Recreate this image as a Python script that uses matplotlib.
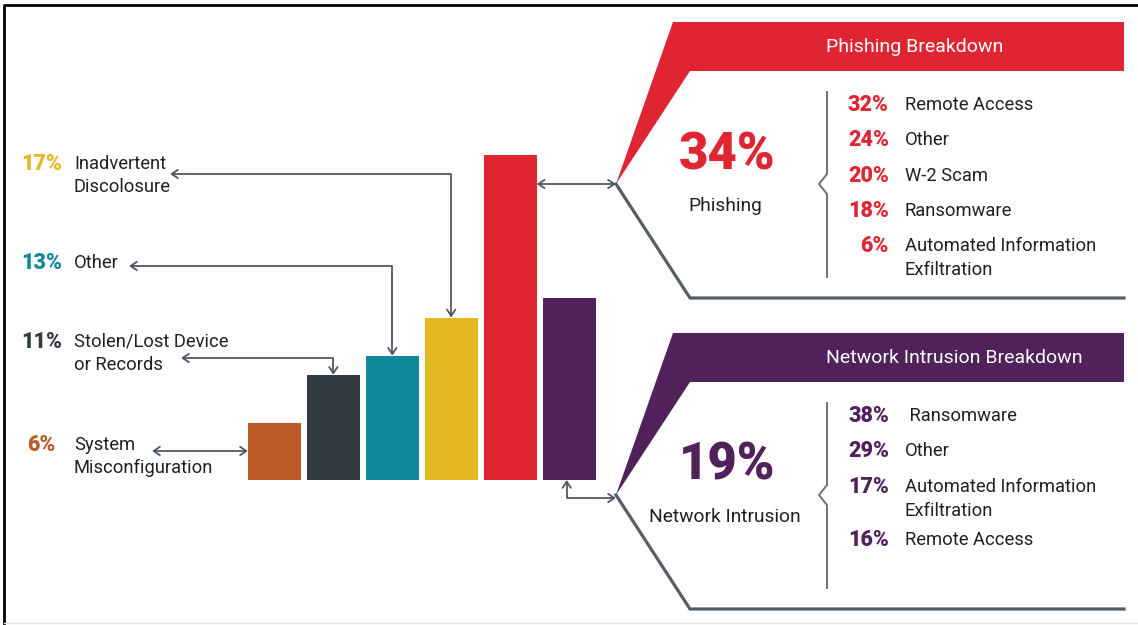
import matplotlib
matplotlib.use("Agg")
import matplotlib.pyplot as plt
from matplotlib.patches import Polygon

plt.rcParams['font.family'] = ['Roboto', 'DejaVu Sans']

# breach causes (bar chart, left to right)
categories = ["System\nMisconfiguration", "Stolen/Lost Device\nor Records", "Other",
              "Inadvertent\nDiscolosure", "Phishing", "Network Intrusion"]
shares = [6, 11, 13, 17, 34, 19]
bar_colors = ["#BC5B26", "#313C42", "#10899A", "#E4B820", "#DE2531", "#50215B"]

# breakdown panels
phishing_types = ["Remote Access", "Other", "W-2 Scam", "Ransomware", "Automated Information\nExfiltration"]
phishing_shares = [32, 24, 20, 18, 6]
intrusion_types = [" Ransomware", "Other", "Automated Information\nExfiltration", "Remote Access"]
intrusion_shares = [38, 29, 17, 16]

TXT = "#231F20"
LINE = "#4F5960"
W, H = 1138, 625

fig = plt.figure(figsize=(W / 100, H / 100), dpi=100)

# overlay in pixel coordinates
ax = fig.add_axes([0, 0, 1, 1])
ax.set_xlim(0, W)
ax.set_ylim(H, 0)
ax.axis("off")

# bar axes: baseline at y=480 px, 34% reaches y=155 px
left, right, base, top = 245, 598.5, 480, 155
bax = fig.add_axes([left / W, (H - base) / H, (right - left) / W, (base - top) / H])
bax.patch.set_alpha(0)
bax.set_xlim(-0.5, len(shares) - 0.5)
bax.set_ylim(0, max(shares))
bax.axis("off")
bax.bar(range(len(shares)), shares, width=0.9, color=bar_colors, zorder=2)


def to_px(x, y):
    px, py = bax.transData.transform((x, y))
    return px, H - py


# frame
ax.plot([4, 4, W], [H, 5, 5], color="black", lw=2, solid_capstyle="butt")
ax.plot([4, W], [623, 623], color="#E4E4E4", lw=1)

arrow = dict(arrowstyle="<->,head_length=0.45,head_width=0.3", color=LINE, lw=1.3,
             shrinkA=0, shrinkB=0)
PCT = dict(fontsize=15.5, fontweight="heavy")

# left labels
label_rows = [  # (bar index, first-line y, elbow y, label end x)
    (0, 445, 451, 152),
    (1, 342, 358, 181),
    (2, 263, 266, 129),
    (3, 164, 174, 170),
]
for i, ly, ay, ax_end in label_rows:
    ax.text(41.5, ly, f"{shares[i]}%", color=bar_colors[i], ha="center", va="center", **PCT)
    for k, line in enumerate(categories[i].split("\n")):
        ax.text(74, ly + 23 * k, line, color=TXT, fontsize=13.2, ha="left", va="center")
    bx, by = to_px(i, shares[i])
    if i == 0:
        x0, _ = to_px(i - 0.45, 0)
        ax.annotate("", xy=(ax_end, ay), xytext=(x0, ay), arrowprops=arrow)
    else:
        ax.annotate("", xy=(ax_end, ay), xytext=(bx, by),
                    arrowprops=dict(arrow, connectionstyle="angle,angleA=90,angleB=0,rad=0"))

# panels
panels = [
    (4, 22, phishing_types, phishing_shares, "Phishing Breakdown", "Phishing"),
    (5, 333, intrusion_types, intrusion_shares, "Network Intrusion Breakdown", "Network Intrusion"),
]
for i, y0, types, vals, header, name in panels:
    c = bar_colors[i]
    tip_y = y0 + 162
    ax.add_patch(Polygon([(616, tip_y), (673, y0), (1124, y0), (1124, y0 + 49), (690, y0 + 49)],
                         closed=True, facecolor=c, edgecolor="none"))
    ax.plot([616, 690, 1124], [tip_y, y0 + 276, y0 + 276], color="#555E65", lw=2.3,
            solid_joinstyle="miter")
    ax.text(826, y0 + 25, header, color="white", fontsize=14, ha="left", va="center")

    # bracket
    ax.plot([827, 827, 819, 827, 827], [y0 + 70, tip_y - 10, tip_y, tip_y + 10, y0 + 255],
            color="#6A7177", lw=1.4)

    ax.text(727, tip_y - 29, f"{shares[i]}%", color=c, fontsize=36.5, fontweight="heavy",
            ha="center", va="center")
    ax.text(725, tip_y + 22, name, color=TXT, fontsize=13.8, ha="center", va="center")

    y = y0 + 83
    for t, v in zip(types, vals):
        ax.text(889, y, f"{v}%", color=c, ha="right", va="center", **PCT)
        lines = t.split("\n")
        for k, line in enumerate(lines):
            ax.text(905, y + 24 * k, line, color=TXT, fontsize=13.2, ha="left", va="center")
        y += 35.3 + 18 * (len(lines) - 1)

    # connector from bar to panel tip
    if i == 4:
        x0, yb = to_px(i + 0.45, 0)
        ax.annotate("", xy=(x0, tip_y), xytext=(616, tip_y), arrowprops=arrow)
    else:
        bx, yb = to_px(i - 0.04, 0)
        ax.annotate("", xy=(bx, yb), xytext=(616, tip_y + 3),
                    arrowprops=dict(arrow, connectionstyle="angle,angleA=0,angleB=90,rad=0"))

fig.savefig("out.png", dpi=100, facecolor="white")
